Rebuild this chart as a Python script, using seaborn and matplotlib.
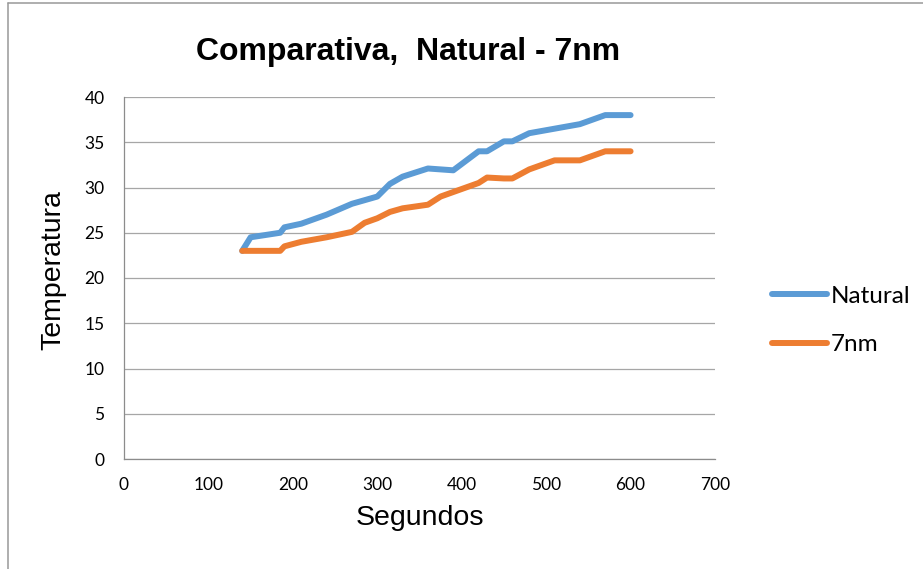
import matplotlib
matplotlib.use("Agg")
import matplotlib.pyplot as plt
from matplotlib.lines import Line2D
import pandas as pd
import seaborn as sns

# Measurement times (s) and temperatures for each sample
segundos = [140, 150, 185, 190, 210, 240, 270, 285, 300, 315, 330, 360, 375,
            390, 420, 430, 450, 460, 480, 510, 540, 570, 600]
natural = [23.0, 24.5, 25.0, 25.6, 26.0, 27.0, 28.2, 28.6, 29.0, 30.4, 31.2, 32.1, 32.0,
           31.9, 34.0, 34.0, 35.1, 35.1, 36.0, 36.5, 37.0, 38.0, 38.0]
nm7 = [23.0, 23.0, 23.0, 23.5, 24.0, 24.5, 25.1, 26.1, 26.6, 27.3, 27.7, 28.1, 29.0,
       29.5, 30.5, 31.1, 31.0, 31.0, 32.0, 33.0, 33.0, 34.0, 34.0]
series_names = ["Natural", "7nm"]
series_colors = ["#5B9BD5", "#ED7D31"]

x_ticks = [0, 100, 200, 300, 400, 500, 600, 700]
y_ticks = [0, 5, 10, 15, 20, 25, 30, 35, 40]

df = pd.concat([
    pd.DataFrame({"Segundos": segundos, "Temperatura": natural, "Serie": series_names[0]}),
    pd.DataFrame({"Segundos": segundos, "Temperatura": nm7, "Serie": series_names[1]}),
], ignore_index=True)

sns.set_theme(style="white")
plt.rcParams["font.family"] = ["Liberation Sans", "DejaVu Sans"]
plt.rcParams["text.color"] = "black"
plt.rcParams["axes.labelcolor"] = "black"
plt.rcParams["xtick.color"] = "black"
plt.rcParams["ytick.color"] = "black"

W, H = 923, 569
fig = plt.figure(figsize=(W / 100, H / 100), dpi=100)
ax = fig.add_axes([124 / W, 1 - 459 / H, (715 - 124) / W, (459 - 97) / H])

sns.lineplot(data=df, x="Segundos", y="Temperatura", hue="Serie",
             hue_order=series_names, palette=series_colors, linewidth=4.3,
             sort=False, ax=ax, legend=True)
for ln in ax.lines:
    ln.set_solid_capstyle("round")
    ln.set_solid_joinstyle("round")

ax.set_xlim(0, 700)
ax.set_ylim(0, 40)
ax.set_xticks(x_ticks)
ax.set_yticks(y_ticks)
ax.set_xticklabels([str(v) for v in x_ticks], fontfamily="Lato", fontsize=12.5, color="black")
ax.set_yticklabels([str(v) for v in y_ticks], fontfamily="Lato", fontsize=12.5, color="black")
ax.tick_params(axis="both", length=0)
ax.tick_params(axis="y", pad=14)
ax.tick_params(axis="x", pad=13)

ax.grid(axis="y", color="#A6A6A6", linewidth=0.9)
ax.grid(axis="x", visible=False)
for side in ["top", "right"]:
    ax.spines[side].set_visible(False)
for side in ["left", "bottom"]:
    ax.spines[side].set_color("#8C8C8C")
    ax.spines[side].set_linewidth(0.9)

ax.set_xlabel("Segundos", fontsize=20.5, color="black")
ax.set_ylabel("Temperatura", fontsize=20.5, color="black")
ax.xaxis.set_label_coords(0.5, -0.128)
ax.yaxis.set_label_coords(-0.098, 0.522)

handles, labels = ax.get_legend_handles_labels()
ax.get_legend().remove()
leg = fig.legend(handles, labels, loc="center left",
                 bbox_to_anchor=(772 / W, 1 - 320.5 / H), frameon=False,
                 prop={"family": "Lato", "size": 17.5}, handlelength=2.25,
                 handletextpad=0.17, labelspacing=1.12, borderpad=0,
                 borderaxespad=0)
for h in leg.get_lines():
    h.set_linewidth(4.3)
    h.set_solid_capstyle("round")
for t in leg.get_texts():
    t.set_color("black")

fig.text(408 / W, 1 - 52 / H, "Comparativa,  Natural - 7nm", ha="center",
         va="center", fontsize=23, fontweight="bold", color="black")

# chart frame edges
fig.add_artist(Line2D([8 / W, 8 / W], [0, 1 - 3 / H], color="#999999",
                      linewidth=1.1, transform=fig.transFigure))
fig.add_artist(Line2D([8 / W, 1], [1 - 3 / H, 1 - 3 / H], color="#999999",
                      linewidth=1.1, transform=fig.transFigure))

fig.savefig("out.png", dpi=100)
